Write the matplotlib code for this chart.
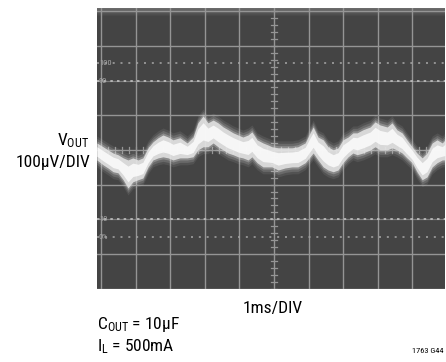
import numpy as np
import matplotlib
matplotlib.use("Agg")
import matplotlib.pyplot as plt
from matplotlib import font_manager

# pick a condensed sans if one is installed
_avail = {f.name for f in font_manager.fontManager.ttflist}
FONT = 'DejaVu Sans'
for cand in ['Liberation Sans Narrow', 'Roboto Condensed', 'DejaVu Sans Condensed',
             'Open Sans Condensed', 'Roboto', 'Liberation Sans']:
    if cand in _avail:
        FONT = cand
        break
plt.rcParams['font.family'] = [FONT, 'DejaVu Sans']
plt.rcParams['mathtext.fontset'] = 'custom'
plt.rcParams['mathtext.rm'] = FONT
plt.rcParams['mathtext.it'] = FONT

# --- data (time in ms, voltage in uV relative to screen centre) ---
t_ms = [-0.12, 0.06, 0.20, 0.35, 0.49, 0.64, 0.78, 0.92, 1.07, 1.21, 1.36, 1.50, 1.65,
        1.79, 1.94, 2.08, 2.28, 2.49, 2.66, 2.80, 2.95, 3.09, 3.24, 3.38, 3.53, 3.67,
        3.82, 3.96, 4.10, 4.25, 4.36, 4.51, 4.68, 4.83, 4.94, 5.12, 5.32, 5.52, 5.69,
        5.90, 6.04, 6.13, 6.27, 6.42, 6.56, 6.71, 6.85, 6.99, 7.14, 7.28, 7.40, 7.57,
        7.78, 7.92, 8.06, 8.27, 8.41, 8.55, 8.70, 8.84, 8.99, 9.13, 9.28, 9.42, 9.57,
        9.71, 9.86, 9.94]
v_upper_uV = [20, 9, 0, -9, -14, -23, -29, -23, -29, -23, 6, 23, 35, 43, 37, 29, 35, 20,
              37, 78, 98, 78, 86, 78, 66, 58, 49, 43, 37, 43, 52, 29, 20, 14, 9, 6, 6, 6,
              9, 20, 49, 66, 37, 29, 9, 0, 6, 29, 37, 49, 49, 58, 66, 81, 72, 66, 78, 58,
              49, 29, 9, -9, -23, -9, 20, 29, 20, 29]
v_lower_uV = [-29, -43, -52, -63, -66, -86, -110, -92, -86, -81, -49, -29, -23, -20, -23,
              -29, -23, -23, -20, 0, 9, 9, 20, 9, 0, -9, -14, -20, -23, -29, -20, -37,
              -49, -49, -49, -58, -52, -49, -49, -37, -20, -9, -29, -49, -58, -63, -58,
              -37, -20, -9, -14, -9, 0, 9, 0, 0, 6, 0, -9, -23, -37, -63, -86, -78, -49,
              -37, -29, -29]

x_divs = list(range(0, 11))            # 1 ms/div
y_major = [-400, -300, -200, -100, 0, 100, 200, 300, 400]   # 100 uV/div
y_pct = [250, -250]
pct_labels = [(250, "100"), (200, "90"), (-200, "10"), (-250, "0%")]

# --- figure ---
W, H = 446, 362
fig = plt.figure(figsize=(W / 100, H / 100), dpi=100)
fig.patch.set_facecolor('white')

x0, x1, y0, y1 = 97, 445, 8, 289
ax = fig.add_axes([x0 / W, 1 - y1 / H, (x1 - x0) / W, (y1 - y0) / H])
ax.set_xlim(-0.116, 9.94)
ax.set_ylim(-401, 409)
ax.set_facecolor('#444444')
for s in ax.spines.values():
    s.set_visible(False)
ax.set_xticks([])
ax.set_yticks([])

# top glow
grad = np.linspace(1, 0, 40)[:, None] * np.ones((1, 10))
ax.imshow(grad, extent=(-0.116, 9.94, 385, 409), aspect='auto', cmap='gray',
          alpha=0.25, zorder=0.5, vmin=-0.5, vmax=1)

gc = '#959595'
for xv in x_divs:
    ax.axvline(xv, color=gc, lw=1.0, zorder=1)
for yv in y_major:
    if abs(yv) == 200:
        ax.axhline(yv, color=gc, lw=0.9, zorder=1, alpha=0.7)
        ax.axhline(yv, color='#c0c0c0', lw=1.2, ls=(0, (1.5, 2.5)), zorder=1.1)
    else:
        ax.axhline(yv, color=gc, lw=1.0, zorder=1)
for yv in y_pct:
    ax.axhline(yv, color='#a0a0a0', lw=1.2, ls=(0, (1.2, 3.5)), zorder=1)

# centre ticks
for yv in np.arange(-400, 401, 20):
    ax.plot([4.91, 5.09], [yv, yv], color=gc, lw=0.9, zorder=1)
for xv in np.arange(0, 10.01, 0.2):
    ax.plot([xv, xv], [-9, 9], color=gc, lw=0.9, zorder=1)

for yv, lab in pct_labels:
    ax.text(-0.06, yv, lab, fontsize=6, color='#a8a8a8', ha='left', va='center', zorder=2)

# trace (soft glowing band)
t = np.array(t_ms)
up = np.array(v_upper_uV)
lo = np.array(v_lower_uV)
for m, a in [(20, 0.10), (13, 0.18), (6, 0.32)]:
    ax.fill_between(t, up + m, lo - m, color='#d4d4d4', alpha=a, lw=0, zorder=3)
ax.fill_between(t, up, lo, color='#e4e4e4', alpha=0.88, lw=0, zorder=4)
mid = (up + lo) / 2
ax.fill_between(t, mid + (up - lo) * 0.28, mid - (up - lo) * 0.28,
                color='#fafafa', alpha=0.9, lw=0, zorder=5)

# --- text ---
fs = 12.5
fig.text(89 / W, 1 - 141 / H, r"V$_{\mathrm{OUT}}$", fontsize=fs, ha='right', va='center')
fig.text(90 / W, 1 - 162 / H, "100\u00b5V/DIV", fontsize=fs, ha='right', va='center')
fig.text(273 / W, 1 - 308 / H, "1ms/DIV", fontsize=fs, ha='center', va='center')
fig.text(97 / W, 1 - 325 / H, "C$_{\\mathrm{OUT}}$ = 10\u00b5F", fontsize=fs,
         ha='left', va='center')
fig.text(97 / W, 1 - 347 / H, r"I$_{\mathrm{L}}$ = 500mA", fontsize=fs, ha='left', va='center')
fig.text(444 / W, 1 - 351 / H, "1763 G44", fontsize=6, ha='right', va='center')

fig.savefig("out.png", dpi=100, facecolor='white')
